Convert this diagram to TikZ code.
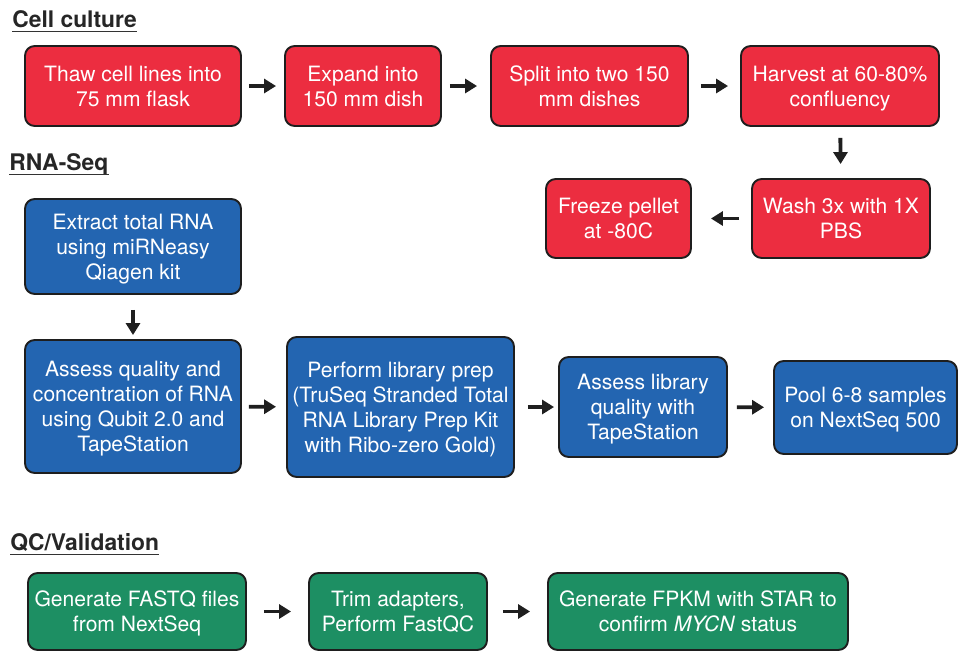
\documentclass[tikz,border=0pt]{standalone}
\usepackage{fontspec}
\setmainfont{TeX Gyre Heros}
\usetikzlibrary{arrows.meta}

\definecolor{cellred}{HTML}{EC2D40}
\definecolor{rnablue}{HTML}{2365B1}
\definecolor{qcgreen}{HTML}{1D8F63}
\definecolor{boxedge}{HTML}{1E1E1E}

\begin{document}
\begin{tikzpicture}[x=0.02cm, y=-0.02cm,
  blk/.style={draw=boxedge, line width=1.1pt, rounded corners=5.5pt, text=white, align=center, inner sep=2pt, text depth=0pt, font=\fontsize{12}{14.2}\selectfont},
  cc/.style={blk, fill=cellred},
  rs/.style={blk, fill=rnablue},
  qc/.style={blk, fill=qcgreen},
  hd/.style={anchor=base west, inner sep=0pt, font=\bfseries\fontsize{13}{15}\selectfont, text=black!85},
  arr/.style={line width=2.2pt, black!88, -{Triangle[length=2.4mm, width=2.8mm]}}]
\useasboundingbox (0,0) rectangle (958,650);
% section headings
\node[hd] (hcell) at (12,27)  {Cell culture};
\node[hd] (hrna)  at (9,170)  {RNA-Seq};
\node[hd] (hqc)   at (10,550) {QC/Validation};
\foreach \h in {hcell,hrna,hqc}
  \draw[line width=0.9pt, black!80] ([yshift=-2.6pt]\h.base west) -- ([yshift=-2.6pt]\h.base east);
% cell culture
\node[cc, minimum width=4.32cm, minimum height=1.6cm]  (thaw)    at (133,86)    {Thaw cell lines into\\75 mm flask};
\node[cc, minimum width=3.12cm, minimum height=1.6cm]  (expand)  at (363,86)    {Expand into\\150 mm dish};
\node[cc, minimum width=3.94cm, minimum height=1.6cm]  (split)   at (589.5,86)  {Split into two 150\\mm dishes};
\node[cc, minimum width=3.96cm, minimum height=1.6cm]  (harvest) at (840,86)    {Harvest at 60-80\%\\confluency};
\node[cc, minimum width=3.56cm, minimum height=1.58cm] (wash)    at (841,218.5) {Wash 3x with 1X\\PBS};
\node[cc, minimum width=2.9cm,  minimum height=1.58cm] (freeze)  at (618.5,218.5) {Freeze pellet\\at -80C};
% rna-seq
\node[rs, minimum width=4.32cm, minimum height=1.9cm]  (extract) at (133,246.5) {Extract total RNA\\using miRNeasy\\Qiagen kit};
\node[rs, minimum width=4.32cm, minimum height=2.66cm] (assess)  at (133,406.5) {Assess quality and\\concentration of RNA\\using Qubit 2.0 and\\TapeStation};
\node[rs, minimum width=4.54cm, minimum height=2.8cm]  (prep)    at (400.5,407) {Perform library prep\\(TruSeq Stranded Total\\RNA Library Prep Kit\\with Ribo-zero Gold)};
\node[rs, minimum width=3.36cm, minimum height=2.0cm]  (libq)    at (643,407)   {Assess library\\quality with\\TapeStation};
\node[rs, minimum width=3.66cm, minimum height=1.86cm] (pool)    at (865.5,407.5) {Pool 6-8 samples\\on NextSeq 500};
% qc / validation
\node[qc, minimum width=4.36cm, minimum height=1.54cm] (fastq)   at (137,611.5) {Generate FASTQ files\\from NextSeq};
\node[qc, minimum width=3.56cm, minimum height=1.54cm] (trim)    at (398,611.5) {Trim adapters,\\Perform FastQC};
\node[qc, minimum width=6.0cm,  minimum height=1.54cm] (fpkm)    at (698,611.5) {Generate FPKM with STAR to\\confirm \textit{MYCN} status};
% arrows
\foreach \a/\b/\s/\e in {thaw/expand/0.14cm/0.16cm, expand/split/0.16cm/0.26cm, split/harvest/0.24cm/0.24cm,
    harvest/wash/0.22cm/0.28cm, wash/freeze/0.24cm/0.38cm, extract/assess/0.3cm/0.08cm,
    assess/prep/0.14cm/0.2cm, prep/libq/0.26cm/0.08cm, libq/pool/0.18cm/0.18cm,
    fastq/trim/0.34cm/0.34cm, trim/fpkm/0.3cm/0.34cm}
  \draw[arr, shorten <=\s, shorten >=\e] (\a) -- (\b);
\end{tikzpicture}
\end{document}
